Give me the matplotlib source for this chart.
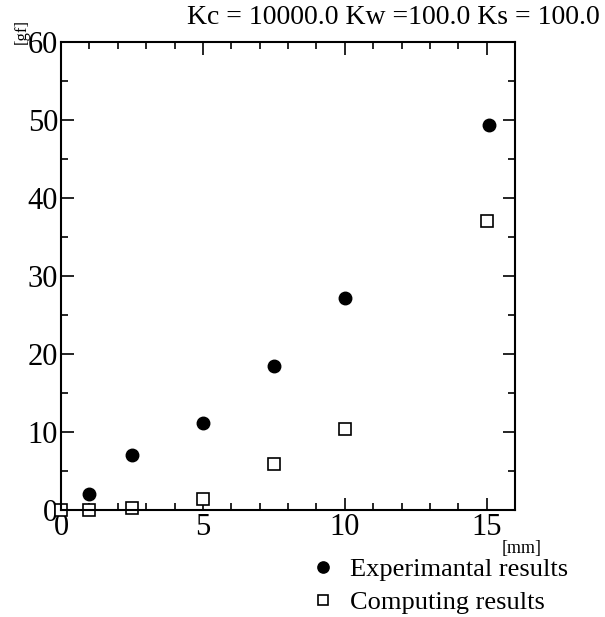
import numpy as np
import matplotlib.pyplot as plt
from matplotlib.ticker import MultipleLocator

plt.rcParams['font.family'] = ['Liberation Serif', 'DejaVu Serif']

# displacement [mm]
x_exp = [1.0, 2.5, 5.0, 7.5, 10.0, 15.1]
y_exp = [2.0, 7.0, 11.1, 18.5, 27.2, 49.3]

x_cmp = [0.0, 1.0, 2.5, 5.0, 7.5, 10.0, 15.0]
y_cmp = [0.0, 0.0, 0.2, 1.4, 5.9, 10.4, 37.1]

title = "Kc = 10000.0 Kw =100.0 Ks = 100.0"

fig = plt.figure(figsize=(6.05, 6.17), dpi=100)
ax = fig.add_axes([61/605, 1 - 510/617, (515-61)/605, (510-42)/617])

ax.plot(x_exp, y_exp, 'o', color='black', ms=9, clip_on=False,
        label='Experimantal results')
ax.plot(x_cmp, y_cmp, 's', mfc='white', mec='black', mew=1.2, ms=8,
        clip_on=False, label='Computing results')

ax.set_xlim(0, 16)
ax.set_ylim(0, 60)
ax.set_xticks([0, 5, 10, 15])
ax.set_yticks([0, 10, 20, 30, 40, 50, 60])
ax.xaxis.set_minor_locator(MultipleLocator(1))
ax.yaxis.set_minor_locator(MultipleLocator(5))
ax.tick_params(which='both', direction='in', top=True, right=True, width=1.2,
               labelsize=22, pad=2)
ax.tick_params(which='major', length=9)
ax.tick_params(which='minor', length=5)
for s in ax.spines.values():
    s.set_linewidth(1.5)

fig.text(600/605, 1 - 18/617, title, ha='right', va='center', fontsize=20)
fig.text(22/605, 1 - 31/617, "[gf]", rotation=90, ha='center', va='center', fontsize=12)
fig.text(522/605, 1 - 548/617, "[mm]", ha='center', va='center', fontsize=13)

leg = ax.legend(loc='upper left', bbox_to_anchor=(310/605, 1 - 558/617),
                bbox_transform=fig.transFigure, frameon=False, fontsize=19,
                handletextpad=0.5, labelspacing=0.35, borderaxespad=0, borderpad=0,
                numpoints=1, handlelength=1.0, markerscale=0.9)

fig.savefig('out.png', dpi=100)
